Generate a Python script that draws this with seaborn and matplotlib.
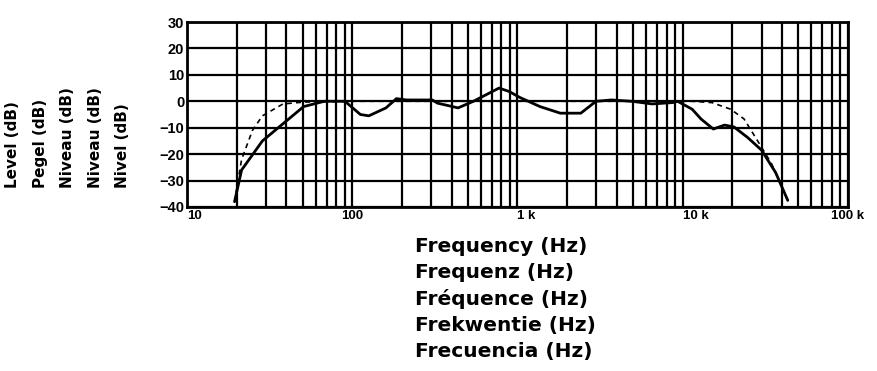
import numpy as np
import pandas as pd
import matplotlib
matplotlib.use("Agg")
import matplotlib.pyplot as plt
from matplotlib.ticker import FixedLocator, NullFormatter
import seaborn as sns

# Measured response (solid)
freq_meas = [19.4, 21.4, 28.6, 38.1, 50.8, 67.8, 90.4, 112, 126, 160, 185, 213, 305, 328,
             437, 541, 624, 773, 891, 1029, 1368, 1816, 2416, 2986, 3698, 4913, 6530,
             8670, 9310, 11400, 12900, 15300, 17900, 20400, 24700, 30000, 36500, 43200]
level_meas = [-38, -26, -15, -8.5, -2, 0, 0, -5, -5.5, -2.5, 1, 0.5, 0.5, -0.7,
              -2.5, 0, 2, 5, 3.7, 1.5, -2, -4.5, -4.5, 0, 0.5, 0, -1,
              -0.5, 0, -3, -6.7, -10.5, -9, -9.7, -13.7, -18.5, -27, -37.5]

# Reference response (dashed)
freq_ref = [19.4, 21.4, 24.9, 28.6, 38.1, 50.8, 100, 1000, 5000, 9000, 11400, 15000,
            19500, 23500, 28400, 34400, 43200]
level_ref = [-38, -22, -11, -5.5, -1, -0.3, 0, 0, 0, 0, 0, -0.5,
             -3, -6.7, -15, -23.5, -37.5]

y_ticks = [30, 20, 10, 0, -10, -20, -30, -40]
y_ticklabels = ["30", "20", "10", "0", "\u221210", "\u221220", "\u221230", "\u221240"]
x_major = [10, 100, 1000, 10000, 100000]
x_ticklabels = ["10", "100", "1 k", "10 k", "100 k"]
y_label = ["Level (dB)", "Pegel (dB)", "Niveau (dB)", "Niveau (dB)", "Nivel (dB)"]
x_label = ["Frequency (Hz)", "Frequenz (Hz)", "Fr\u00e9quence (Hz)", "Frekwentie (Hz)", "Frecuencia (Hz)"]

sns.set_style("white")
plt.rcParams['font.family'] = ['DejaVu Sans']
plt.rcParams['text.color'] = 'black'
plt.rcParams['xtick.color'] = 'black'
plt.rcParams['ytick.color'] = 'black'

fig = plt.figure(figsize=(8.78, 3.71), dpi=100)
ax = fig.add_axes([187/878, 1-207/371, (848-187)/878, (207-22)/371])

df_m = pd.DataFrame({"f": freq_meas, "L": level_meas})
df_r = pd.DataFrame({"f": freq_ref, "L": level_ref})
sns.lineplot(data=df_m, x="f", y="L", ax=ax, color="black", lw=2.0, sort=False, estimator=None)
sns.lineplot(data=df_r, x="f", y="L", ax=ax, color="black", lw=1.2, sort=False, estimator=None,
             linestyle=(0, (3, 2.5)))

ax.set_xscale("log")
ax.set_xlim(10, 100000)
ax.set_ylim(-40, 30)

# grid
minor = [m * d for d in [10, 100, 1000, 10000] for m in range(2, 10)]
for v in minor + x_major:
    ax.axvline(v, color="black", lw=1.6, zorder=0)
for v in y_ticks:
    ax.axhline(v, color="black", lw=1.6, zorder=0)
for s in ax.spines.values():
    s.set_color("black"); s.set_linewidth(2)

ax.set_yticks(y_ticks)
ax.set_yticklabels(y_ticklabels, fontsize=10.5, fontweight="bold", color="black",
                   family=['Liberation Sans', 'DejaVu Sans'])
ax.tick_params(axis="y", length=0, pad=2)
ax.xaxis.set_major_locator(FixedLocator(x_major))
ax.xaxis.set_minor_locator(FixedLocator([]))
ax.xaxis.set_minor_formatter(NullFormatter())
ax.set_xticklabels(x_ticklabels, fontsize=9.5, fontweight="bold", color="black",
                   family=['Liberation Sans', 'DejaVu Sans'])
for lbl, ha in zip(ax.get_xticklabels(), ["left", "center", "left", "left", "center"]):
    lbl.set_ha(ha)
ax.tick_params(axis="x", length=0, pad=2)
ax.set_xlabel("")
ax.set_ylabel("")

fig.text(5/878, 1-188/371, "\n".join(y_label), rotation=90, ha="left", va="bottom",
         fontsize=11, fontweight="bold", linespacing=2.05, multialignment="left", color="black")
fig.text(415/878, 1-237/371, "\n".join(x_label), ha="left", va="top",
         fontsize=14.5, fontweight="bold", linespacing=1.46, color="black")

fig.savefig("out.png", dpi=100, facecolor="white")
